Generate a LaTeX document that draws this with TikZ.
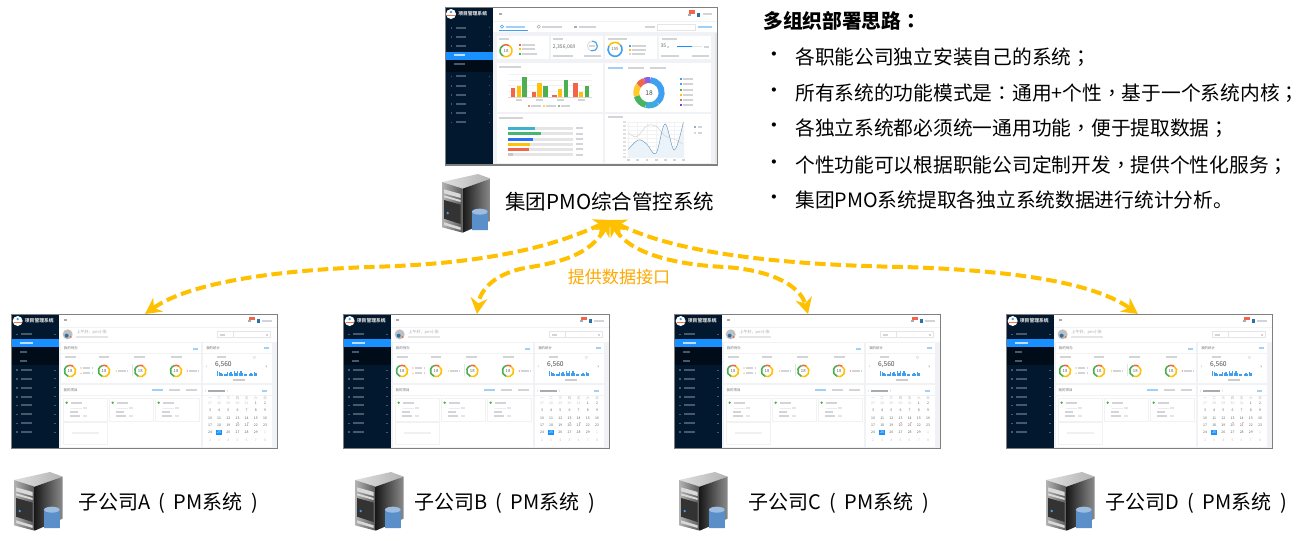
\documentclass[tikz,border=0pt]{standalone}
\usepackage{fontspec}
\setmainfont{Noto Sans CJK SC}
\newfontfamily\tcp{Noto Sans CJK TC}
\usetikzlibrary{arrows.meta}
\definecolor{navy}{HTML}{02182F}
\definecolor{navydeep}{HTML}{000C17}
\definecolor{selblue}{HTML}{1890FF}
\definecolor{pagebg}{HTML}{F0F2F5}
\definecolor{framegray}{HTML}{7F7F7F}
\definecolor{txtbar}{HTML}{D2D4D8}
\definecolor{txtdark}{HTML}{A8ACB2}
\definecolor{sidebar}{HTML}{46586C}
\definecolor{cred}{HTML}{F2644B}
\definecolor{cyellow}{HTML}{FFC107}
\definecolor{cgreen}{HTML}{4CAF50}
\definecolor{cblue}{HTML}{3FA0F2}
\definecolor{cteal}{HTML}{3CC4A8}
\definecolor{cpurple}{HTML}{8E5FE0}
\definecolor{arrowy}{HTML}{FFC000}
\definecolor{labely}{HTML}{FFA800}
\definecolor{cylblue}{HTML}{5B8FC9}
\tikzset{
  flow/.style={draw=arrowy,line width=3pt,dash pattern=on 8pt off 3.6pt,
    {Stealth[length=12pt,width=12.5pt]}-{Stealth[length=12pt,width=12.5pt]}},
  big/.style={font=\fontsize{15.4}{18}\selectfont,inner sep=0pt,anchor=west,text=black},
  sub/.style={font=\fontsize{15}{18}\selectfont,inner sep=0pt,anchor=west,text=black},
  body/.style={font=\fontsize{14.8}{17}\selectfont,inner sep=0pt,anchor=west,text=black},
  head/.style={font=\bfseries\fontsize{14.8}{17}\selectfont,inner sep=0pt,anchor=west,text=black},
  iface/.style={font=\fontsize{12.8}{15}\selectfont,inner sep=0pt,text=labely},
  tiny/.style={font=\fontsize{2.6}{3}\selectfont,inner sep=0pt,text=txtdark},
  num/.style={font=\fontsize{3.2}{4}\selectfont,inner sep=0pt,text=black!60},
  numbig/.style={font=\fontsize{5}{6}\selectfont,inner sep=0pt,text=black!70},
  brand/.style={font=\bfseries\fontsize{3.6}{4}\selectfont,inner sep=0pt,text=white!85!black},
  card/.style={fill=white},
}
\newcommand\subl[1]{子公司#1\hspace{6pt}(\hspace{6.5pt}PM系统\hspace{6.5pt})}
% text-like bar: x1 x2 y colour
\newcommand\bb[4]{\fill[#4] (#1,#3-2.6) rectangle (#2,#3+2.6);}
% ring segment: cx cy r lw colour start end
\newcommand\seg[7]{\draw[line width=#4pt,#5] (#1,#2) ++(#6:#3) arc[start angle=#6,end angle=#7,radius=#3];}
\newcommand\legdot[3]{\fill[#3] (#1-3,#2-3) rectangle (#1+3,#2+3);}
\newcommand\ringA[2]{%
  \seg{#1}{#2}{17}{1.2}{cyellow}{-60}{110}
  \seg{#1}{#2}{17}{1.2}{cgreen}{110}{250}
  \seg{#1}{#2}{17}{1.2}{cred}{250}{300}
  \node[num] at (#1,#2) {18};}
\newcommand\brandlogo[2]{%
  \fill[white] (#1,#2) circle (15);
  \fill[cblue] (#1,#2-6) circle (4);
  \fill[cred!80!cyellow] (#1-12,#2+2) rectangle (#1+12,#2+6);}
% ---------- server icon, local box 146 x 176 ----------
\newcommand\serv{%
  \shade[left color=black!12,right color=black!30] (0,24)--(108,0)--(146,14)--(62,44)--cycle;
  \shade[left color=black!30,right color=black!65] (0,24)--(62,44)--(62,176)--(0,160)--cycle;
  \shade[left color=black!90,right color=black!45] (62,44)--(146,14)--(146,140)--(62,176)--cycle;
  \fill[black!15] (6,46)--(56,60)--(56,72)--(6,58)--cycle;
  \fill[black!15] (6,64)--(56,78)--(56,84)--(6,70)--cycle;
  \fill[black!80] (6,78)--(56,92)--(56,150)--(6,134)--cycle;
  \fill[black!15] (6,145)--(56,160)--(56,168)--(6,153)--cycle;
  \fill[cblue] (17,117) circle (4);
  \fill[cylblue] (90,113) rectangle (137,168);
  \fill[cylblue] (90,168) arc[start angle=180,end angle=0,x radius=23.5,y radius=-8] -- cycle;
  \fill[cylblue!60!white] (113.5,113) ellipse (23.5 and 9);
}
% ---------- group dashboard, drawn in the coordinates of zoom 1 ----------
\newcommand\bigdash{%
  \fill[pagebg] (16,23) rectangle (833,495);
  \fill[navy] (16,23) rectangle (160,495);
  \fill[navydeep] (16,180) rectangle (160,215);
  \fill[selblue] (16,155) rectangle (160,180);
  \brandlogo{33}{42}
  \node[brand] (bd-brand) at (98,42) {项目管理系统};
  \foreach \yy in {83,110,137,229,257,284,312,339,367}{
    \fill[sidebar] (32,\yy-2.5) rectangle (37,\yy+2.5);
    \bb{47}{77}{\yy}{sidebar}
    \fill[sidebar] (146,\yy-1) rectangle (151,\yy+1);}
  \bb{42}{75}{166}{white!70!selblue}
  \bb{42}{75}{193}{sidebar}
  % top bar and tabs
  \fill[white] (160,23) rectangle (833,62);
  \fill[white] (160,65) rectangle (833,97);
  \bb{176}{186}{41}{txtdark}
  \fill[cred] (748,31) rectangle (765,41);
  \fill[txtdark] (745,42) rectangle (752,47);
  \fill[cblue!70!black] (771,40) rectangle (780,50);
  \bb{788}{815}{43}{txtbar}
  \draw[cblue,line width=.5pt] (176,90)--(265,90);
  \draw[cblue,line width=.4pt] (186,80) circle (5);
  \bb{197}{255}{80}{cblue!50}
  \draw[txtdark,line width=.4pt] (296,80) circle (5);
  \bb{306}{365}{80}{txtbar}
  \bb{402}{412}{80}{txtdark}
  \bb{416}{468}{80}{txtbar}
  \bb{615}{645}{82}{txtbar}
  \draw[black!10,line width=.3pt] (652,74) rectangle (765,92);
  \bb{775}{815}{82}{cblue!50}
  \fill[black!10] (825,100) rectangle (833,490);
  % row 1 cards
  \fill[card] (170,107) rectangle (327,178);
  \fill[card] (333,107) rectangle (490,178);
  \fill[card] (495,107) rectangle (651,178);
  \fill[card] (657,107) rectangle (812,178);
  \bb{178}{207}{116}{txtbar}
  \seg{198}{152}{18}{1.15}{cyellow}{-60}{120}
  \seg{198}{152}{18}{1.15}{cgreen}{120}{240}
  \seg{198}{152}{18}{1.15}{cred}{240}{300}
  \node[num] (bd-r1) at (198,152) {18};
  \legdot{240}{134}{cred}\bb{247}{285}{134}{txtbar}
  \legdot{240}{148}{cyellow}\bb{247}{285}{148}{txtbar}
  \legdot{240}{161}{cgreen}\bb{247}{290}{161}{txtbar}
  \bb{340}{368}{116}{txtbar}
  \node[num,anchor=west,font=\fontsize{3.8}{4}\selectfont] (bd-cost) at (338,140) {2,356,000};
  \bb{396}{402}{142}{txtbar}
  \seg{457}{138}{15}{.8}{black!12}{-90}{270}
  \seg{457}{138}{15}{.8}{cblue}{-90}{110}
  \bb{448}{466}{138}{txtbar}
  \bb{338}{400}{168}{txtbar}
  \bb{432}{484}{168}{txtbar}
  \bb{503}{562}{116}{txtbar}
  \seg{525}{148}{21}{1.2}{cblue}{-40}{210}
  \seg{525}{148}{21}{1.2}{cyellow}{210}{320}
  \node[num] (bd-r3) at (525,148) {155};
  \legdot{570}{137}{cblue}\bb{577}{617}{137}{txtbar}
  \legdot{570}{149}{cyellow}\bb{577}{617}{149}{txtbar}
  \legdot{570}{161}{txtbar}\bb{577}{615}{161}{txtbar}
  \bb{665}{710}{116}{txtbar}
  \node[num,font=\fontsize{3.8}{4}\selectfont] (bd-35) at (670,137) {35};
  \bb{680}{688}{140}{txtbar}
  \fill[black!10] (710,138) rectangle (785,142);
  \fill[selblue] (710,138) rectangle (757,142);
  \bb{792}{806}{140}{txtbar}
  \bb{664}{718}{169}{txtbar}
  \bb{757}{808}{169}{txtbar}
  % row 2 cards
  \fill[card] (170,188) rectangle (490,335);
  \fill[card] (495,188) rectangle (812,335);
  \bb{178}{244}{201}{txtbar}
  \foreach \yy in {221,239,256,274}{\draw[black!5,line width=.2pt] (205,\yy)--(455,\yy);}
  \draw[black!15,line width=.25pt] (205,291)--(455,291);
  \foreach \xx/\a/\b/\c in {213/265/257/230,275/275/248/257,337/284/266/239,400/248/275/257}{
    \fill[cred] (\xx,\a) rectangle (\xx+13,291);
    \fill[cyellow] (\xx+17,\b) rectangle (\xx+30,291);
    \fill[cgreen] (\xx+34,\c) rectangle (\xx+48,291);
    \bb{\xx+14}{\xx+34}{301}{txtbar}}
  \legdot{268}{319}{cred!70}\bb{274}{303}{319}{txtbar}
  \legdot{312}{319}{cyellow!70}\bb{318}{347}{319}{txtbar}
  \legdot{357}{319}{cgreen!70}\bb{363}{391}{319}{txtbar}
  \bb{505}{550}{205}{cblue!50}
  \bb{565}{612}{205}{txtbar}
  \bb{630}{677}{205}{txtbar}
  \seg{627}{278}{38}{4.5}{cblue}{-85}{50}
  \seg{627}{278}{38}{4.5}{cblue!70!cteal}{50}{105}
  \seg{627}{278}{38}{4.5}{cgreen!80!cteal}{105}{165}
  \seg{627}{278}{38}{4.5}{cyellow!85!white}{165}{215}
  \seg{627}{278}{38}{4.5}{cred}{215}{250}
  \seg{627}{278}{38}{4.5}{cpurple}{250}{275}
  \node[numbig] (bd-18) at (627,278) {18};
  \foreach \yy/\cc in {237/cblue,253/cblue,269/cgreen,285/cyellow,299/cred,314/cpurple!70!blue}{
    \legdot{722}{\yy}{\cc}\bb{730}{758}{\yy}{txtbar}}
  % row 3 cards
  \fill[card] (170,342) rectangle (490,490);
  \fill[card] (495,342) rectangle (812,490);
  \bb{178}{248}{354}{txtbar}
  \foreach \yy/\xe/\cc in {384/284/cblue!50!cteal,401/302/cgreen!60!cteal,417/279/cblue!70!blue,432/271/cyellow,448/266/cred,464/220/black!22}{
    \fill[black!10] (205,\yy-4.5) rectangle (398,\yy+4.5);
    \fill[\cc] (205,\yy-4.5) rectangle (\xe,\yy+4.5);
    \bb{407}{428}{\yy}{txtbar}}
  \bb{505}{550}{352}{txtbar}
  \fill[cblue!12] plot[smooth,tension=.6] coordinates{(565,448)(595,420)(620,432)(648,460)(675,372)(703,450)(730,367)} -- (730,472) -- (565,472) -- cycle;
  \foreach \yy in {367,378.7,390.4,402.1,413.8,425.5,437.2,448.9,460.6,472}{
    \draw[black!5,line width=.2pt] (562,\yy)--(735,\yy);
    \bb{550}{557}{\yy}{black!12}}
  \foreach \xx in {565,592,620,648,675,703,730}{
    \draw[black!5,line width=.2pt] (\xx,367)--(\xx,472);
    \bb{\xx-3}{\xx+5}{480}{txtbar}}
  \draw[black!18,line width=.35pt] plot[smooth,tension=.6] coordinates{(565,398)(590,410)(620,378)(648,378)(675,408)(703,418)(730,433)};
  \draw[cblue!70!black!70,line width=.35pt] plot[smooth,tension=.6] coordinates{(565,448)(595,420)(620,432)(648,460)(675,372)(703,450)(730,367)};
  \fill[cblue!60!black] (765,381) circle (2.5);\bb{773}{787}{381}{txtbar}
  \fill[black!30] (765,399) circle (2.5);\bb{773}{787}{399}{txtbar}
  \draw[framegray,line width=.95pt] (16,23) rectangle (833,495);
}
% ---------- company dashboard, drawn in the coordinates of zoom 2 ----------
\newcommand\subdash{%
  \fill[pagebg] (34,29) rectangle (833,430);
  \fill[navy] (34,29) rectangle (177,430);
  \fill[navydeep] (34,126) rectangle (177,180);
  \fill[selblue] (34,103) rectangle (177,126);
  \brandlogo{53}{48}
  \node[brand] (brand) at (118,48) {项目管理系统};
  \foreach \yy in {88,195,221,248,275,301,328,355,381}{
    \fill[sidebar] (48,\yy-2.5) rectangle (53,\yy+2.5);
    \bb{63}{97}{\yy}{sidebar}
    \fill[sidebar] (162,\yy-1) rectangle (167,\yy+1);}
  \bb{61}{98}{115}{white!70!selblue}
  \bb{61}{80}{142}{sidebar}
  \bb{61}{80}{168}{sidebar}
  \fill[white] (177,29) rectangle (833,66);
  \fill[white] (177,68) rectangle (833,110);
  \bb{191}{201}{46}{txtdark}
  \fill[cred] (747,35) rectangle (765,46);
  \fill[txtdark] (745,46) rectangle (752,51);
  \fill[cblue!70!black] (771,43) rectangle (780,53);
  \bb{787}{815}{47}{txtbar}
  \fill[black!25] (203,88) circle (15);
  \fill[cblue!70!black] (200,92) circle (6);
  \fill[cred] (212,96) circle (3);
  \node[tiny,anchor=west,font=\fontsize{3}{4}\selectfont] (hello) at (229,81) {上午好，pm小张};
  \bb{229}{323}{97}{black!10}
  \draw[black!10,line width=.3pt] (652,80) rectangle (810,98);
  \draw[black!10,line width=.3pt] (700,80)--(700,98);
  \bb{660}{675}{89}{txtbar}
  \fill[txtbar] (798,87) rectangle (803,92);
  % cards
  \fill[card] (183,115) rectangle (603,235);
  \fill[card] (609,115) rectangle (816,235);
  \fill[card] (183,240) rectangle (603,425);
  \fill[card] (609,240) rectangle (816,425);
  \node[tiny,anchor=west,text=black!55] (todo) at (191,131) {我的待办};
  \bb{578}{595}{131}{cblue!50}
  \node[tiny,anchor=west,text=black!55] (stat) at (618,130) {我的统计};
  \bb{792}{808}{129}{cblue!50}
  \draw[black!5,line width=.25pt] (183,145)--(603,145);
  \draw[black!5,line width=.25pt] (609,145)--(816,145);
  \foreach \xa/\xb in {195/228,296/328,403/436,513/546}{\bb{\xa}{\xb}{156}{txtbar}}
  \ringA{210}{198}
  \ringA{312}{198}
  \ringA{421}{198}
  \ringA{528}{198}
  \fill[cred] (243,189) circle (2);\bb{250}{270}{189}{txtbar}\bb{275}{279}{189}{txtbar}
  \fill[cyellow] (243,205) circle (2);\bb{250}{270}{205}{txtbar}\bb{275}{279}{205}{txtbar}
  \fill[cyellow] (349,198) circle (2);\bb{355}{377}{198}{txtbar}\bb{381}{385}{198}{txtbar}
  \fill[cred] (562,198) circle (2);\bb{568}{590}{198}{txtbar}\bb{594}{598}{198}{txtbar}
  \draw[black!10,line width=.25pt] (395,176)--(395,214);
  % statistics
  \bb{650}{678}{157}{txtbar}
  \draw[txtbar,line width=.25pt] (763,157) circle (4);
  \node[numbig] (six) at (670,178) {6,560};
  \draw[txtbar,line width=.3pt] (621,181)--(618,184)--(621,187);
  \draw[txtdark,line width=.3pt] (797,181)--(800,184)--(797,187);
  \foreach \xx/\hh in {651/14,656/11,661/8,666/6,671/5,676/6,681/12,686/7,691/10,696/5,701/13,706/7,711/14,716/8,721/15,726/8,731/6,736/4,746/5,751/7,756/5,761/10,766/8}{
    \fill[cblue] (\xx,212-\hh) rectangle (\xx+3.5,212);}
  \bb{700}{735}{226}{black!20}
  % projects
  \node[tiny,anchor=west,text=black!55] (proj) at (190,255) {我的项目};
  \bb{455}{488}{255}{cblue!50}
  \bb{507}{540}{255}{txtbar}
  \bb{558}{590}{255}{txtbar}
  \draw[black!5,line width=.25pt] (183,270)--(603,270);
  \foreach \xa in {190,328,466}{
    \draw[black!5,line width=.25pt] (\xa,280) rectangle (\xa+132,347);
    \fill[cgreen] (\xa+10,293) circle (4);
    \bb{\xa+22}{\xa+55}{293}{txtbar}
    \draw[black!8,line width=.25pt] (\xa+22,309)--(\xa+55,309);
    \bb{\xa+60}{\xa+70}{309}{black!10}
    \bb{\xa+20}{\xa+43}{321}{txtbar}
    \bb{\xa+20}{\xa+50}{333}{txtbar}
    \bb{\xa+58}{\xa+70}{333}{black!10}}
  \draw[black!5,line width=.25pt] (190,350) rectangle (322,418);
  \bb{215}{297}{384}{black!6}
  % calendar
  \draw[txtbar,line width=.25pt] (618,254)--(615,257)--(618,260);
  \bb{625}{675}{257}{txtdark}
  \draw[txtbar,line width=.25pt] (681,254)--(684,257)--(681,260);
  \bb{785}{800}{257}{cblue!50}
  \draw[black!5,line width=.25pt] (609,270)--(816,270);
  \foreach \w [count=\i] in {一,二,三,四,五,六,日}{
    \node[tiny,text=black!30] (w\i) at (602.5+27.5*\i,280) {\w};}
  \fill[selblue] (649,375) rectangle (665,391);
  \fill[cred] (714,353) circle (1.8);
  \fill[cred] (744,353) circle (1.8);
  \foreach \yy/\vals/\lo/\hi in {295/{27,28,29,30,31,1,2}/6/7,317/{3,4,5,6,7,8,9}/1/7,339/{10,11,12,13,14,15,16}/1/7,361/{17,18,19,20,21,22,23}/1/7,383/{24,25,26,27,28,29,1}/1/6,405/{2,3,4,5,6,7,8}/8/8}{
    \foreach \v [count=\i] in \vals {
      \pgfmathparse{(\i>=\lo && \i<=\hi)?"black!60":"black!22"}\edef\mycol{\pgfmathresult}
      \ifnum\yy=383 \ifnum\i=2 \edef\mycol{white}\fi\fi
      \node[tiny,text=\mycol] (d\yy-\i) at (602.5+27.5*\i,\yy) {\v};}}
  \draw[framegray,line width=.95pt] (34,29) rectangle (833,430);
}
\begin{document}
\begin{tikzpicture}[x=.75pt,y=-.75pt]
\useasboundingbox (0,0) rectangle (1304,540);
\fill[white] (0,0) rectangle (1304,540);

\begin{scope}[shift={(440,0)},x=.25pt,y=-.25pt,name prefix=g-]\bigdash\end{scope}
\begin{scope}[shift={(0,305)},x=.25pt,y=-.25pt,name prefix=a-]\subdash\end{scope}
\begin{scope}[shift={(332,305)},x=.25pt,y=-.25pt,name prefix=b-]\subdash\end{scope}
\begin{scope}[shift={(663,305)},x=.25pt,y=-.25pt,name prefix=c-]\subdash\end{scope}
\begin{scope}[shift={(995,305)},x=.25pt,y=-.25pt,name prefix=d-]\subdash\end{scope}

\begin{scope}[shift={(442,174)},x=.25pt,y=-.25pt]\serv\end{scope}
\begin{scope}[shift={(14,472)},x=.25pt,y=-.25pt]\serv\end{scope}
\begin{scope}[shift={(355,472)},x=.25pt,y=-.25pt]\serv\end{scope}
\begin{scope}[shift={(679,472)},x=.25pt,y=-.25pt]\serv\end{scope}
\begin{scope}[shift={(1046,472)},x=.25pt,y=-.25pt]\serv\end{scope}

\node[big] (lgroup) at (505,202) {集团PMO综合管控系统};
\node[sub] (la) at (78,503) {\subl{A}};
\node[sub] (lb) at (414,503) {\subl{B}};
\node[sub] (lc) at (748,503) {\subl{C}};
\node[sub] (ld) at (1105,503) {\subl{D}};

\node[head] (title) at (763,21) {多组织部署思路{\tcp ：}};
\node[body] (b1) at (764,57) {•};
\node[body] (t1) at (795,57) {各职能公司独立安装自己的系统{\tcp ；}};
\node[body] (b2) at (764,93) {•};
\node[body] (t2) at (795,93) {所有系统的功能模式是{\tcp ：}通用+个性{\tcp ，}基于一个系统内核{\tcp ；}};
\node[body] (b3) at (764,128) {•};
\node[body] (t3) at (795,128) {各独立系统都必须统一通用功能{\tcp ，}便于提取数据{\tcp ；}};
\node[body] (b4) at (764,165) {•};
\node[body] (t4) at (795,165) {个性功能可以根据职能公司定制开发{\tcp ，}提供个性化服务{\tcp ；}};
\node[body] (b5) at (764,200) {•};
\node[body] (t5) at (795,200) {集团PMO系统提取各独立系统数据进行统计分析。};

\node[iface] (ifl) at (619,277) {提供数据接口};

\coordinate (hub) at (610,220);
\coordinate (ta) at (145,314);
\coordinate (tb) at (477,314);
\coordinate (tc) at (808,314);
\coordinate (td) at (1138,314);
\coordinate (ma) at (370,267);
\coordinate (mb) at (531,267);
\coordinate (mc) at (725,267);
\coordinate (md) at (904,267);
\draw[flow] (hub) .. controls (530,258) and (440,265) .. (ma) .. controls (280,270) and (190,282) .. (ta);
\draw[flow] (hub) .. controls (590,255) and (560,262) .. (mb) .. controls (495,272) and (480,290) .. (tb);
\draw[flow] (hub) .. controls (630,255) and (680,265) .. (mc) .. controls (770,270) and (800,285) .. (tc);
\draw[flow] (hub) .. controls (680,255) and (790,265) .. (md) .. controls (1000,270) and (1090,280) .. (td);
\end{tikzpicture}
\end{document}
